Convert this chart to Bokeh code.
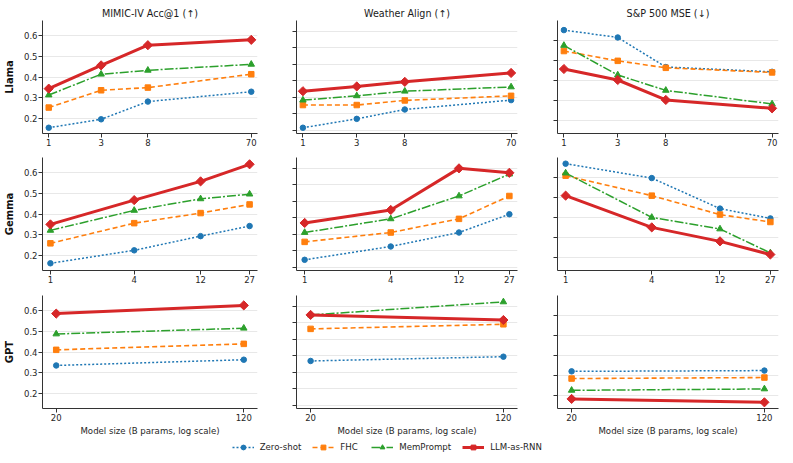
import numpy as np
from bokeh.plotting import figure
from bokeh.models import (Range1d, FixedTicker, NumeralTickFormatter, CustomJSTickFormatter,
                          Legend, LegendItem)
from bokeh.layouts import column, row
from bokeh.embed import file_html
from bokeh.resources import INLINE

# ---------------- data ----------------
methods = ["Zero-shot", "FHC", "MemPrompt", "LLM-as-RNN"]
families = ["Llama", "Gemma", "GPT"]
tasks = ["MIMIC-IV Acc@1 (\u2191)", "Weather Align (\u2191)", "S&P 500 MSE (\u2193)"]
x_label = "Model size (B params, log scale)"

llama_sizes = [1, 3, 8, 70]
gemma_sizes = [1, 4, 12, 27]
gpt_sizes = [20, 120]

# MIMIC-IV Acc@1
mimic_llama_zero = [0.154, 0.195, 0.281, 0.329]
mimic_llama_fhc = [0.252, 0.336, 0.349, 0.414]
mimic_llama_mem = [0.313, 0.414, 0.433, 0.462]
mimic_llama_rnn = [0.344, 0.457, 0.555, 0.581]
mimic_gemma_zero = [0.161, 0.224, 0.293, 0.342]
mimic_gemma_fhc = [0.258, 0.356, 0.405, 0.447]
mimic_gemma_mem = [0.321, 0.418, 0.474, 0.497]
mimic_gemma_rnn = [0.350, 0.468, 0.559, 0.642]
mimic_gpt_zero = [0.335, 0.363]
mimic_gpt_fhc = [0.411, 0.440]
mimic_gpt_mem = [0.488, 0.516]
mimic_gpt_rnn = [0.587, 0.627]

# Weather Align
weather_llama_zero = [0.114, 0.168, 0.225, 0.282]
weather_llama_fhc = [0.252, 0.252, 0.280, 0.308]
weather_llama_mem = [0.282, 0.308, 0.336, 0.362]
weather_llama_rnn = [0.336, 0.365, 0.393, 0.447]
weather_gemma_zero = [0.144, 0.225, 0.310, 0.421]
weather_gemma_fhc = [0.253, 0.310, 0.393, 0.532]
weather_gemma_mem = [0.310, 0.393, 0.532, 0.665]
weather_gemma_rnn = [0.368, 0.447, 0.700, 0.673]
weather_gpt_zero = [0.368, 0.394]
weather_gpt_fhc = [0.563, 0.591]
weather_gpt_mem = [0.648, 0.727]
weather_gpt_rnn = [0.648, 0.617]

# S&P 500 MSE
sp_llama_zero = [0.652, 0.615, 0.467, 0.443]
sp_llama_fhc = [0.547, 0.498, 0.463, 0.440]
sp_llama_mem = [0.575, 0.427, 0.350, 0.282]
sp_llama_rnn = [0.457, 0.402, 0.302, 0.260]
sp_gemma_zero = [0.669, 0.597, 0.444, 0.395]
sp_gemma_fhc = [0.609, 0.509, 0.414, 0.377]
sp_gemma_mem = [0.622, 0.400, 0.342, 0.222]
sp_gemma_rnn = [0.509, 0.350, 0.280, 0.214]
sp_gpt_zero = [0.320, 0.324]
sp_gpt_fhc = [0.284, 0.289]
sp_gpt_mem = [0.225, 0.232]
sp_gpt_rnn = [0.182, 0.165]

y_ticks_mimic = [0.2, 0.3, 0.4, 0.5, 0.6]
y_ticks_weather = [0.1, 0.2, 0.3, 0.4, 0.5, 0.6, 0.7]
y_ticks_sp = [0.2, 0.3, 0.4, 0.5, 0.6]

sizes = {"Llama": llama_sizes, "Gemma": gemma_sizes, "GPT": gpt_sizes}
series = {
    ("Llama", 0): [mimic_llama_zero, mimic_llama_fhc, mimic_llama_mem, mimic_llama_rnn],
    ("Gemma", 0): [mimic_gemma_zero, mimic_gemma_fhc, mimic_gemma_mem, mimic_gemma_rnn],
    ("GPT", 0): [mimic_gpt_zero, mimic_gpt_fhc, mimic_gpt_mem, mimic_gpt_rnn],
    ("Llama", 1): [weather_llama_zero, weather_llama_fhc, weather_llama_mem, weather_llama_rnn],
    ("Gemma", 1): [weather_gemma_zero, weather_gemma_fhc, weather_gemma_mem, weather_gemma_rnn],
    ("GPT", 1): [weather_gpt_zero, weather_gpt_fhc, weather_gpt_mem, weather_gpt_rnn],
    ("Llama", 2): [sp_llama_zero, sp_llama_fhc, sp_llama_mem, sp_llama_rnn],
    ("Gemma", 2): [sp_gemma_zero, sp_gemma_fhc, sp_gemma_mem, sp_gemma_rnn],
    ("GPT", 2): [sp_gpt_zero, sp_gpt_fhc, sp_gpt_mem, sp_gpt_rnn],
}
y_ticks = [y_ticks_mimic, y_ticks_weather, y_ticks_sp]

# ---------------- styles / layout ----------------
FONT = "DejaVu Sans"
colors = ["#1f77b4", "#ff7f0e", "#2ca02c", "#d62728"]
dashes = ["2 2", "5 3", "9 2 2 2", "solid"]
lwidths = [1.5, 1.6, 1.5, 3.0]
markers = ["circle", "square", "triangle", "square"]
angles = [0.0, 0.0, 0.0, np.pi / 4]
msizes = [5.5, 5.5, 6.5, 6.5]

y_ranges = [(0.126, 0.675), (0.079, 0.766), (0.134, 0.700)]
XPAD = 1.14

col_w = [268, 260, 257]
col_left = [36, 28, 29]
col_right = [11, 11, 7]
row_h = [149, 138, 151]
row_top = [20, 8, 8]
row_bot = [16, 17, 30]
AX = "#333333"
TXT = "#262626"


def panel(r, c):
    fam = families[r]
    xs = sizes[fam]
    p = figure(width=col_w[c], height=row_h[r], x_axis_type="log",
               x_range=Range1d(xs[0] / XPAD, xs[-1] * XPAD),
               y_range=Range1d(*y_ranges[c]),
               toolbar_location=None, output_backend="svg",
               min_border_left=col_left[c], min_border_right=col_right[c],
               min_border_top=row_top[r], min_border_bottom=row_bot[r],
               outline_line_color=None)
    if r == 0:
        p.title.text = tasks[c]
        p.title.align = "center"
        p.title.text_font = FONT
        p.title.text_font_size = "9.6px"
        p.title.text_font_style = "normal"
        p.title.text_color = "#1a1a1a"
        p.title.standoff = 4
        p.title.text_line_height = 1.0
    xa = p.xaxis[0]
    ya = p.yaxis[0]
    xa.ticker = FixedTicker(ticks=xs, minor_ticks=[])
    xa.formatter = NumeralTickFormatter(format="0")
    ya.ticker = FixedTicker(ticks=y_ticks[c], minor_ticks=[])
    p.xgrid.visible = False
    p.ygrid.ticker = ya.ticker
    p.ygrid.grid_line_color = "#e8e8e8"
    p.ygrid.grid_line_width = 1
    if c == 0:
        ya.formatter = NumeralTickFormatter(format="0.0")
        ya.axis_label = fam
        ya.axis_label_text_font = FONT
        ya.axis_label_text_font_size = "10px"
        ya.axis_label_text_font_style = "bold"
        ya.axis_label_text_color = "#111111"
        ya.axis_label_standoff = 6
    else:
        ya.formatter = CustomJSTickFormatter(code="return ''")
    for ax in (xa, ya):
        ax.axis_line_color = AX
        ax.major_tick_line_color = AX
        ax.major_tick_out = 4
        ax.major_tick_in = 0
        ax.minor_tick_line_color = None
        ax.major_label_text_font = FONT
        ax.major_label_text_font_size = "8.5px"
        ax.major_label_text_color = TXT
        ax.major_label_standoff = 1
    if r == 2:
        xa.axis_label = x_label
        xa.axis_label_text_font = FONT
        xa.axis_label_text_font_size = "8.6px"
        xa.axis_label_text_font_style = "normal"
        xa.axis_label_text_color = TXT
        xa.axis_label_standoff = 2
    for k in range(4):
        ys = series[(fam, c)][k]
        p.line(xs, ys, line_color=colors[k], line_width=lwidths[k], line_dash=dashes[k])
        p.scatter(xs, ys, marker=markers[k], size=msizes[k], angle=angles[k],
                  fill_color=colors[k], line_color=colors[k], line_width=1)
    return p


rows = []
for r in range(3):
    rows.append(row(*[panel(r, c) for c in range(3)]))

lf = figure(width=785, height=17, x_range=Range1d(0, 1), y_range=Range1d(0, 1),
            toolbar_location=None, output_backend="svg", min_border=0,
            outline_line_color=None, x_axis_location=None, y_axis_location=None)
lf.grid.visible = False
items = []
for k, m in enumerate(methods):
    # single off-canvas point so the legend glyph gets drawn
    lr = lf.line([-9], [-9], line_color=colors[k], line_width=lwidths[k], line_dash=dashes[k])
    sr = lf.scatter([-9], [-9], marker=markers[k], size=msizes[k], angle=angles[k],
                    fill_color=colors[k], line_color=colors[k])
    items.append(LegendItem(label=m, renderers=[lr, sr]))
leg = Legend(items=items, orientation="horizontal", location=(231.7, 2),
             glyph_width=22, glyph_height=12, label_height=12, label_standoff=6,
             spacing=11, padding=0, margin=0, border_line_color=None,
             background_fill_alpha=0, label_text_font=FONT,
             label_text_font_size="8.6px", label_text_color=TXT)
lf.add_layout(leg, "center")

layout = column(*rows, lf)
open("out.html", "w").write(file_html(layout, INLINE))
